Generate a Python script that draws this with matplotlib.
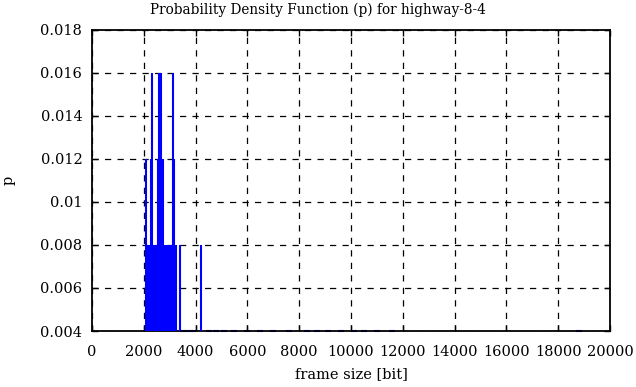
import matplotlib.pyplot as plt
import numpy as np

# frame sizes [bit] and their probability
frame_size = [2066, 2124, 2201, 2259, 2309, 2355, 2413, 2471, 2541, 2579,
              2625, 2672, 2722, 2780, 2838, 2934, 2992, 3050, 3108, 3166,
              3224, 3409, 4197]
p = [0.012, 0.008, 0.008, 0.012, 0.016, 0.008, 0.008, 0.008, 0.012, 0.016,
     0.016, 0.016, 0.012, 0.008, 0.008, 0.008, 0.008, 0.008, 0.016, 0.012,
     0.008, 0.008, 0.008]

# sizes that only show up as a sliver on the bottom border
rare_size = [3500, 3700, 3900, 4500, 4800, 5100, 5500, 6000, 6500, 7000,
             7600, 8300, 8700, 9100, 9600, 10100, 10500, 11000, 11600, 18800]
rare_p = [0.004] * len(rare_size)

plt.rcParams['font.family'] = ['DejaVu Serif']
plt.rcParams['font.size'] = 10

fig = plt.figure(figsize=(6.36, 3.87), dpi=100)
ax = fig.add_axes([0.1447, 0.1447, 0.8145, 0.778])

ax.vlines(frame_size, 0, p, color='blue', linewidth=1.5, zorder=3)
ax.plot(rare_size, rare_p, linestyle='none', marker='_', markersize=5,
        markeredgewidth=1.5, color='blue', clip_on=False, zorder=1)

ax.set_xlim(0, 20000)
ax.set_ylim(0.004, 0.018)
ax.set_xticks(np.arange(0, 20001, 2000))
ax.set_yticks(np.arange(0.004, 0.0181, 0.002))
ax.set_yticklabels(['0.004', '0.006', '0.008', '0.01', '0.012', '0.014',
                    '0.016', '0.018'])

ax.grid(True, color='black', linestyle=(0, (5, 5)), linewidth=0.9)
ax.tick_params(direction='in', length=4, width=1, top=True, right=True,
               labelsize=10.5)
ax.tick_params(axis='y', pad=7)
ax.tick_params(axis='x', pad=10)
for s in ax.spines.values():
    s.set_linewidth(1.3)

fig.text(0.5, 0.975, 'Probability Density Function (p) for highway-8-4',
         fontsize=9.8, ha='center', va='center')
ax.set_xlabel('frame size [bit]', fontsize=10.5, labelpad=6)
ax.set_ylabel('p', fontsize=10.5, labelpad=18)

plt.savefig('out.png')
